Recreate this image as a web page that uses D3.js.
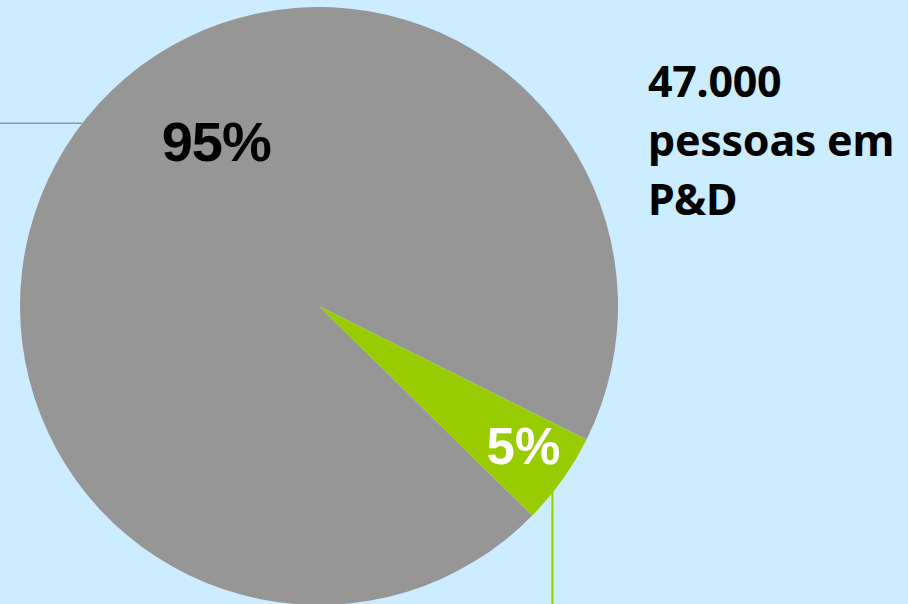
<!DOCTYPE html>
<html><head><meta charset="utf-8">
<script src="https://cdn.jsdelivr.net/npm/d3@7"></script>
<style>html,body{margin:0;padding:0;background:#CCECFF;}svg{display:block;}</style>
</head><body>
<svg id="c" width="908" height="604"></svg>
<script>
const categories = ["Outros", "P&D"];
const values = [95, 5];
const labels = ["95%", "5%"];
const colors = ["#969696", "#99CC00"];
const titleLines = ["47.000", "pessoas em", "P&D"];

const W = 908, H = 604;
const svg = d3.select("#c");
svg.append("rect").attr("width", W).attr("height", H).attr("fill", "#CCECFF");

const cx = 319, cy = 306, R = 299;
const deg = Math.PI / 180;
const pie = d3.pie().sort(null).value(d => d)
  .startAngle(134.5 * deg).endAngle((134.5 + 360) * deg);
const arcs = pie(values);
const arc = d3.arc().innerRadius(0).outerRadius(R);
const g = svg.append("g").attr("transform", `translate(${cx},${cy})`);

// leader lines
const grayPt = d3.pointRadial(-52.3 * deg, R);
g.append("line").attr("x1", -cx).attr("x2", grayPt[0]).attr("y1", grayPt[1]).attr("y2", grayPt[1])
  .attr("stroke", "#969696").attr("stroke-width", 1.5);
const greenPt = d3.pointRadial(128.2 * deg, R - 2);
g.append("line").attr("x1", greenPt[0]).attr("x2", greenPt[0]).attr("y1", greenPt[1]).attr("y2", H - cy)
  .attr("stroke", "#99CC00").attr("stroke-width", 2);

g.selectAll("path.s").data(arcs).join("path").attr("class", "s")
  .attr("d", arc).attr("fill", (d, i) => colors[i]);

// labels
const p95 = d3.pointRadial(-32 * deg, 194);
g.append("text").attr("x", p95[0]).attr("y", p95[1]).attr("text-anchor", "middle")
  .attr("dominant-baseline", "central")
  .attr("font-family", "Liberation Sans, Arial, sans-serif").attr("font-weight", "bold")
  .attr("font-size", 56).attr("letter-spacing", -1).attr("fill", "#000").text(labels[0]);
const mid5 = (arcs[1].startAngle + arcs[1].endAngle) / 2;
const p5 = d3.pointRadial(mid5 - 1 * deg, 248);
g.append("text").attr("x", p5[0]).attr("y", p5[1]).attr("text-anchor", "middle")
  .attr("dominant-baseline", "central")
  .attr("font-family", "Liberation Sans, Arial, sans-serif").attr("font-weight", "bold")
  .attr("font-size", 51).attr("fill", "#fff").text(labels[1]);

// title
const t = svg.append("text").attr("x", 648).attr("y", 97)
  .attr("font-family", "Noto Sans, Open Sans, sans-serif").attr("font-weight", "bold")
  .attr("font-size", 43).attr("letter-spacing", -0.3).attr("fill", "#000");
titleLines.forEach((l, i) => t.append("tspan").attr("x", 648).attr("y", 97 + i * 59).text(l));
</script>
</body></html>
